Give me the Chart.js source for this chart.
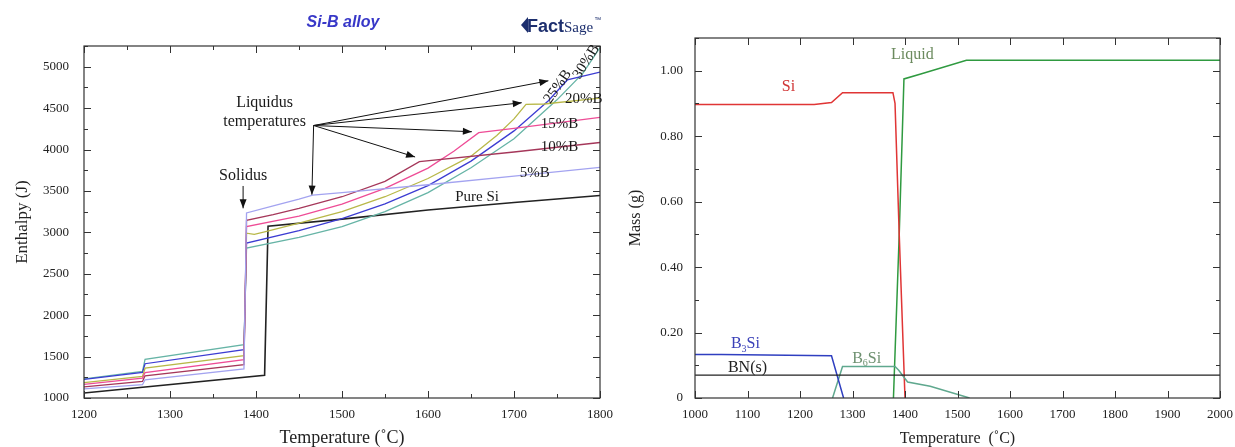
<!DOCTYPE html>
<html><head><meta charset="utf-8">
<script src="https://cdn.jsdelivr.net/npm/chart.js@4.4.1/dist/chart.umd.min.js"></script>
<style>
html,body{margin:0;padding:0;background:#fff;width:1235px;height:447px;overflow:hidden}
#c1{position:absolute;left:0;top:0}
#c2{position:absolute;left:620px;top:0}
</style></head><body>
<canvas id="c1" width="620" height="447"></canvas>
<canvas id="c2" width="615" height="447"></canvas>
<script>
// ---------- LEFT CHART DATA: enthalpy (J) vs temperature (°C) ----------
const pureSi = [[1200,1060],[1410,1273],[1414,3075],[1500,3160],[1600,3270],[1700,3360],[1800,3445]];
const b5  = [[1200,1110],[1268,1160],[1271,1220],[1386,1350],[1389,3235],[1420,3320],[1450,3400],[1466,3450],[1500,3480],[1600,3575],[1700,3680],[1800,3785]];
const b10 = [[1200,1135],[1268,1200],[1271,1268],[1386,1402],[1389,3145],[1420,3215],[1450,3290],[1500,3430],[1550,3615],[1590,3853],[1700,3970],[1800,4085]];
const b15 = [[1200,1165],[1268,1240],[1271,1308],[1386,1463],[1389,3070],[1450,3195],[1500,3340],[1550,3530],[1600,3775],[1630,3980],[1659,4204],[1700,4255],[1800,4388]];
const b20 = [[1200,1185],[1268,1260],[1271,1360],[1386,1511],[1389,2990],[1398,2975],[1410,3005],[1450,3110],[1500,3250],[1550,3430],[1600,3650],[1650,3920],[1680,4170],[1700,4370],[1714,4545],[1735,4550],[1800,4620]];
const b25 = [[1200,1225],[1268,1310],[1271,1414],[1386,1583],[1389,2870],[1450,3020],[1500,3165],[1550,3345],[1600,3565],[1650,3860],[1700,4225],[1740,4590],[1762,4840],[1800,4935]];
const b30 = [[1200,1230],[1268,1322],[1271,1468],[1386,1644],[1389,2810],[1450,2940],[1500,3070],[1550,3250],[1600,3480],[1650,3780],[1700,4130],[1750,4600],[1780,4920],[1800,5230]];
const leftXTicks = {min:1200, max:1800, major:100, minor:50};
const leftYTicks = {min:1000, max:5250, major:500, minor:250};
const leftXLabels = [1200,1300,1400,1500,1600,1700,1800];
const leftYLabels = [1000,1500,2000,2500,3000,3500,4000,4500,5000];

// labels on left chart (data coordinates)
const leftLabels = [
  {t:'Liquidus', x:1410, y:4565, size:16},
  {t:'temperatures', x:1410, y:4335, size:16},
  {t:'Solidus', x:1385, y:3683, size:16},
  {t:'Pure Si', x:1657, y:3430, size:15},
  {t:'5%B', x:1724, y:3719, size:15},
  {t:'10%B', x:1753, y:4033, size:15},
  {t:'15%B', x:1753, y:4311, size:15},
  {t:'20%B', x:1781, y:4613, size:15},
  {t:'25%B', x:1751, y:4758, size:15, rot:-55},
  {t:'30%B', x:1784, y:5060, size:15, rot:-58}
];
const arrowOrigin = [1467, 4290];
const arrowTips = [[1740,4830],[1709,4565],[1651,4215],[1585,3910],[1465,3455]];
const solidusArrow = [[1385,3560],[1385,3290]];

// ---------- RIGHT CHART DATA: mass (g) vs temperature (°C) ----------
const siPhase   = [[1000,0.897],[1227,0.897],[1260,0.903],[1281,0.933],[1377,0.933],[1381,0.90],[1389,0.50],[1400,0]];
const liquid    = [[1378,0],[1389,0.50],[1398,0.975],[1430,0.99],[1517,1.032],[2000,1.032]];
const b3si      = [[1000,0.133],[1050,0.133],[1260,0.129],[1283,0]];
const b6si      = [[1262,0],[1281,0.096],[1381,0.096],[1388,0.085],[1405,0.049],[1448,0.036],[1523,0]];
const bn        = [[1000,0.07],[2000,0.07]];
const rightXTicks = {min:1000, max:2000, major:100, minor:100};
const rightYTicks = {min:0, max:1.1, major:0.2, minor:0.1};
const rightXLabels = [1000,1100,1200,1300,1400,1500,1600,1700,1800,1900,2000];
const rightYLabels = [0,0.2,0.4,0.6,0.8,1.0];

const rightLabels = [
  {parts:[['Liquid']], x:1414, y:1.048, color:'#6b8a5e'},
  {parts:[['Si']], x:1178, y:0.951, color:'#d03434'},
  {parts:[['B'],['3',1],['Si']], x:1096, y:0.165, color:'#3a40b8'},
  {parts:[['B'],['6',1],['Si']], x:1327, y:0.121, color:'#6e9070'},
  {parts:[['BN(s)']], x:1100, y:0.091, color:'#222'}
];

const SERIF = "'Liberation Serif','Times New Roman',serif";
const pts = a => a.map(([x,y]) => ({x, y}));
const ds = (arr, color, w) => ({data: pts(arr), borderColor: color, borderWidth: w || 1.3, pointRadius: 0, fill: false, tension: 0});

function frameTicks(chart, xt, yt) {
  const {ctx, chartArea: a, scales: {x, y}} = chart;
  ctx.save();
  ctx.strokeStyle = '#333'; ctx.lineWidth = 1.2;
  ctx.strokeRect(a.left, a.top, a.right - a.left, a.bottom - a.top);
  ctx.lineWidth = 1;
  const isMajor = (v, t) => { const r = (v - t.min) / t.major; return Math.abs(r - Math.round(r)) < 1e-6; };
  ctx.beginPath();
  for (let i = 0; ; i++) {
    const v = xt.min + i * xt.minor; if (v > xt.max + 1e-9) break;
    const L = isMajor(v, xt) ? 7 : 4; const p = Math.round(x.getPixelForValue(v)) + 0.5;
    ctx.moveTo(p, a.bottom); ctx.lineTo(p, a.bottom - L);
    ctx.moveTo(p, a.top); ctx.lineTo(p, a.top + L);
  }
  for (let i = 0; ; i++) {
    const v = yt.min + i * yt.minor; if (v > yt.max + 1e-9) break;
    const L = isMajor(v, yt) ? 7 : 4; const p = Math.round(y.getPixelForValue(v)) + 0.5;
    ctx.moveTo(a.left, p); ctx.lineTo(a.left + L, p);
    ctx.moveTo(a.right, p); ctx.lineTo(a.right - L, p);
  }
  ctx.stroke();
  ctx.restore();
}

function arrow(ctx, x1, y1, x2, y2) {
  ctx.beginPath(); ctx.moveTo(x1, y1); ctx.lineTo(x2, y2); ctx.stroke();
  const ang = Math.atan2(y2 - y1, x2 - x1), L = 9, W = 3.5;
  ctx.beginPath();
  ctx.moveTo(x2, y2);
  ctx.lineTo(x2 - L*Math.cos(ang) + W*Math.sin(ang), y2 - L*Math.sin(ang) - W*Math.cos(ang));
  ctx.lineTo(x2 - L*Math.cos(ang) - W*Math.sin(ang), y2 - L*Math.sin(ang) + W*Math.cos(ang));
  ctx.closePath(); ctx.fill();
}

const makeScale = (t, labels, fmt, titleText, titleSize, axis, fit, pad, tpad) => ({
  type: 'linear', min: t.min, max: t.max,
  grid: {display: false, drawTicks: false},
  border: {display: false},
  afterBuildTicks: s => { s.ticks = labels.map(v => ({value: v})); },
  ticks: {color: '#222', font: {family: SERIF, size: 13}, padding: pad, autoSkip: false, maxRotation: 0, callback: fmt},
  title: {display: true, text: titleText, color: '#222', font: {family: SERIF, size: titleSize, lineHeight: axis === 'x' ? 1 : 1.2}, padding: tpad},
  afterFit: s => {
    if (axis === 'x') { s.height = fit; s.paddingLeft = 0; s.paddingRight = 0; }
    else { s.width = fit; s.paddingTop = 0; s.paddingBottom = 0; }
  }
});

// ---------- LEFT CHART ----------
new Chart(document.getElementById('c1'), {
  type: 'line',
  data: {datasets: [
    ds(b5, '#a3a3f0'), ds(b10, '#a5375a'), ds(b15, '#ee4c96'), ds(b20, '#b8b848'),
    ds(b25, '#3c3cd2'), ds(b30, '#66b4a6'), ds(pureSi, '#222', 1.6)
  ]},
  options: {
    responsive: false, animation: false, events: [],
    layout: {padding: {top: 46, right: 20, bottom: 0, left: 0}},
    plugins: {legend: {display: false}, tooltip: {enabled: false}},
    scales: {
      x: makeScale(leftXTicks, leftXLabels, v => String(v), 'Temperature (\u02DAC)', 18, 'x', 49, 9, {top: 0, bottom: 0}),
      y: makeScale(leftYTicks, leftYLabels, v => String(v), 'Enthalpy (J)', 17, 'y', 84, 15, {top: 12, bottom: 0})
    }
  },
  plugins: [{
    id: 'leftDeco',
    afterDatasetsDraw(chart) {
      frameTicks(chart, leftXTicks, leftYTicks);
      const {ctx, scales: {x, y}} = chart;
      ctx.save();
      ctx.fillStyle = '#1a1a1a'; ctx.textAlign = 'center'; ctx.textBaseline = 'middle';
      for (const l of leftLabels) {
        ctx.save();
        ctx.translate(x.getPixelForValue(l.x), y.getPixelForValue(l.y));
        if (l.rot) ctx.rotate(l.rot * Math.PI / 180);
        ctx.font = `${l.size}px ${SERIF}`;
        ctx.fillText(l.t, 0, 0);
        ctx.restore();
      }
      ctx.strokeStyle = '#111'; ctx.fillStyle = '#111'; ctx.lineWidth = 1;
      const ox = x.getPixelForValue(arrowOrigin[0]), oy = y.getPixelForValue(arrowOrigin[1]);
      for (const [tx, ty] of arrowTips) arrow(ctx, ox, oy, x.getPixelForValue(tx), y.getPixelForValue(ty));
      arrow(ctx, x.getPixelForValue(solidusArrow[0][0]), y.getPixelForValue(solidusArrow[0][1]),
                 x.getPixelForValue(solidusArrow[1][0]), y.getPixelForValue(solidusArrow[1][1]));
      // title
      ctx.fillStyle = '#3838c8'; ctx.font = `italic bold 16px 'Liberation Sans',Arial,sans-serif`;
      ctx.textAlign = 'center'; ctx.fillText('Si-B alloy', 343, 23);
      // FactSage logo
      ctx.fillStyle = '#1d2f6e';
      ctx.beginPath(); ctx.moveTo(521, 25); ctx.lineTo(528, 17); ctx.lineTo(528, 33); ctx.closePath(); ctx.fill();
      ctx.textAlign = 'left'; ctx.textBaseline = 'alphabetic';
      ctx.font = `bold 18px 'Liberation Sans',Arial,sans-serif`;
      ctx.fillText('Fact', 527, 32);
      const w = ctx.measureText('Fact').width;
      ctx.font = `15px ${SERIF}`;
      ctx.fillText('Sage', 527 + w, 32);
      const w2 = ctx.measureText('Sage').width;
      ctx.font = `7px 'Liberation Sans',sans-serif`;
      ctx.fillText('\u2122', 528 + w + w2, 22);
      ctx.restore();
    }
  }]
});

// ---------- RIGHT CHART ----------
new Chart(document.getElementById('c2'), {
  type: 'line',
  data: {datasets: [
    ds(bn, '#222', 1.3), ds(b3si, '#2f3fc0', 1.5), ds(b6si, '#5fa88e', 1.5),
    ds(siPhase, '#e03535', 1.5), ds(liquid, '#2f9a40', 1.5)
  ]},
  options: {
    responsive: false, animation: false, events: [],
    layout: {padding: {top: 38, right: 15, bottom: 0, left: 0}},
    plugins: {legend: {display: false}, tooltip: {enabled: false}},
    scales: {
      x: makeScale(rightXTicks, rightXLabels, v => String(v), 'Temperature  (\u02DAC)', 16, 'x', 49, 9, {top: 0, bottom: 0}),
      y: makeScale(rightYTicks, rightYLabels, v => (Math.abs(v) < 1e-9 ? '0' : v.toFixed(2)), 'Mass (g)', 16, 'y', 75, 12, {top: 6, bottom: 0})
    }
  },
  plugins: [{
    id: 'rightDeco',
    afterDatasetsDraw(chart) {
      frameTicks(chart, rightXTicks, rightYTicks);
      const {ctx, scales: {x, y}} = chart;
      ctx.save();
      ctx.textBaseline = 'middle'; ctx.textAlign = 'left';
      for (const l of rightLabels) {
        ctx.fillStyle = l.color;
        let total = 0;
        for (const [s, sub] of l.parts) { ctx.font = `${sub ? 10 : 16}px ${SERIF}`; total += ctx.measureText(s).width; }
        let cx = x.getPixelForValue(l.x) - total / 2; const cy = y.getPixelForValue(l.y);
        for (const [s, sub] of l.parts) {
          ctx.font = `${sub ? 10 : 16}px ${SERIF}`;
          ctx.fillText(s, cx, sub ? cy + 5 : cy);
          cx += ctx.measureText(s).width;
        }
      }
      ctx.restore();
    }
  }]
});
</script>
</body></html>
